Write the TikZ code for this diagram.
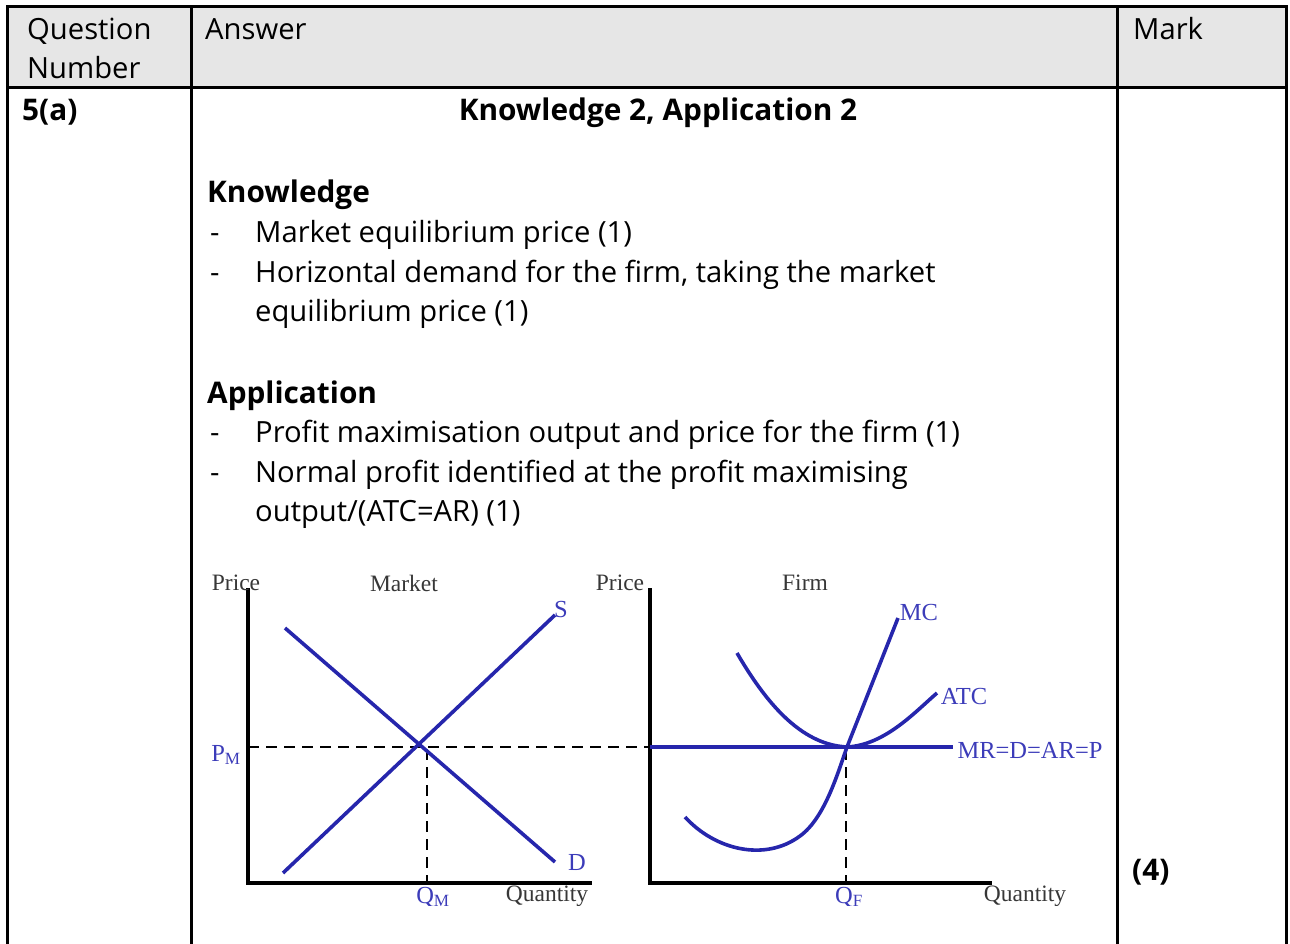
\documentclass[tikz,border=0pt]{standalone}
\usepackage{fontspec}
\setmainfont{Open Sans}
\newfontfamily\tnr{Liberation Serif}
\definecolor{hdr}{RGB}{230,230,230}
\definecolor{cblue}{RGB}{38,38,172}
\definecolor{lblue}{RGB}{60,60,185}
\definecolor{lgray}{RGB}{55,55,55}
\tikzset{
 body/.style={anchor=base west, inner sep=0pt, font=\fontsize{29.2}{34}\selectfont},
 bodyb/.style={anchor=base west, inner sep=0pt, font=\fontsize{29.8}{34}\selectfont\bfseries},
 rule/.style={line width=3pt},
 curve/.style={cblue, line width=3.6pt},
 axis/.style={black, line width=3.6pt},
 guide/.style={black, line width=2.8pt, dash pattern=on 11pt off 7pt},
 dlab/.style={inner sep=0pt, font=\tnr\fontsize{23.5}{25}\selectfont, text=lgray},
 blab/.style={inner sep=0pt, font=\tnr\fontsize{24.5}{26}\selectfont, text=lblue},
}
\begin{document}
\begin{tikzpicture}[x=1pt,y=-1pt]
\useasboundingbox (0,0) rectangle (1290,944);
% table
\fill[hdr] (7,7) rectangle (1286,88);
\draw[rule] (7,944) -- (7,7) -- (1286,7) -- (1286,944);
\draw[rule] (7,88) -- (1286,88);
\draw[rule] (191,7) -- (191,944);
\draw[rule] (1117,7) -- (1117,944);
% header
\node[body] (hq1) at (27,40) {Question};
\node[body] (hq2) at (27,79) {Number};
\node[body] (ha) at (205,40) {Answer};
\node[body] (hm) at (1133,40) {Mark};
% row
\node[bodyb] (qn) at (22,121) {5(a)};
\node[bodyb, anchor=base] (title) at (658,121) {Knowledge 2, Application 2};
\node[bodyb] (kh) at (207,203) {Knowledge};
\node[body] (kd1) at (210,243) {-};
\node[body] (k1) at (255,243) {Market equilibrium price (1)};
\node[body] (kd2) at (210,282) {-};
\node[body] (k2) at (255,282) {Horizontal demand for the firm, taking the market};
\node[body] (k3) at (255,321) {equilibrium price (1)};
\node[bodyb] (ah) at (207,403) {Application};
\node[body] (ad1) at (210,442) {-};
\node[body] (a1) at (255,442) {Profit maximisation output and price for the firm (1)};
\node[body] (ad2) at (210,482) {-};
\node[body] (a2) at (255,482) {Normal profit identified at the profit maximising};
\node[body] (a3) at (255,521) {output/(ATC=AR) (1)};
\node[bodyb] (mk) at (1132,880) {(4)};
% diagram
\begin{scope}
\clip (200,565) rectangle (1110,905);
% coordinates
\coordinate (mo) at (248,883);
\coordinate (mtop) at (248,588);
\coordinate (mx) at (592,883);
\coordinate (fo) at (650,883);
\coordinate (ftop) at (650,588);
\coordinate (fx) at (992,883);
\coordinate (s0) at (283,873);
\coordinate (s1) at (555,615);
\coordinate (d0) at (285,628);
\coordinate (d1) at (555,862);
\coordinate (pm) at (248,747);
\coordinate (pf) at (650,747);
\coordinate (mrend) at (953,747);
\coordinate (qmt) at (427,749);
\coordinate (qmb) at (427,883);
\coordinate (qft) at (846,749);
\coordinate (qfb) at (846,883);
\coordinate (eqf) at (847,747);
% guides
\draw[guide] (pm) -- (pf);
\draw[guide] (qmt) -- (qmb);
\draw[guide] (qft) -- (qfb);
% axes
\draw[axis] (mtop) -- (mo) -- (mx);
\draw[axis] (ftop) -- (fo) -- (fx);
% market curves
\draw[curve] (s0) -- (s1);
\draw[curve] (d0) -- (d1);
% firm
\draw[curve] (pf) -- (mrend);
\draw[curve] (685,817) .. controls (715,850) and (765,862) .. (800,836)
   .. controls (825,818) and (838,772) .. (eqf) -- (898,618);
\draw[curve] (737,653) .. controls (770,710) and (805,745) .. (eqf)
   .. controls (885,745) and (915,712) .. (937,693);
% labels
\node[dlab] (lpm1) at (236,583) {Price};
\node[dlab] (lmk) at (404,583) {Market};
\node[dlab] (lpf1) at (620,583) {Price};
\node[dlab] (lfm) at (805,583) {Firm};
\node[blab] (ls) at (561,610) {S};
\node[blab] (ld) at (577,862) {D};
\node[blab] (lpm) at (226,755) {P\textsubscript{M}};
\node[blab] (lmc) at (919,613) {MC};
\node[blab] (latc) at (964,697) {ATC};
\node[blab] (lmr) at (1030,750) {MR=D=AR=P};
\node[blab] (lqm) at (433,897) {Q\textsubscript{M}};
\node[dlab] (lq1) at (547,896) {Quantity};
\node[blab] (lqf) at (849,897) {Q\textsubscript{F}};
\node[dlab] (lq2) at (1025,896) {Quantity};
\end{scope}
\end{tikzpicture}
\end{document}
